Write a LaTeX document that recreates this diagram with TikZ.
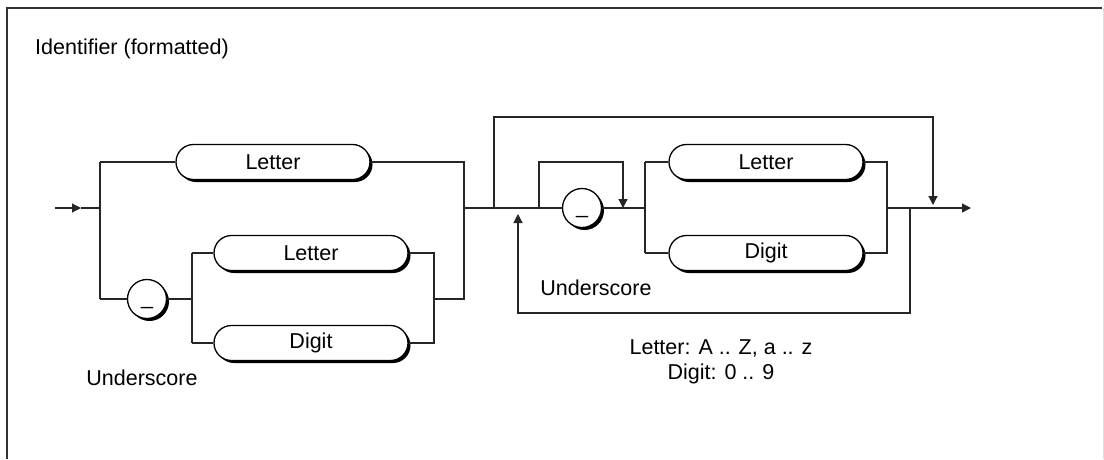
\documentclass[tikz,border=0pt]{standalone}
\usepackage{fontspec}
\setmainfont{Liberation Sans}
\usetikzlibrary{arrows.meta,shapes.misc,shadows}
\begin{document}
\begin{tikzpicture}[x=1pt,y=-1pt,
  every node/.style={font=\fontsize{21.5}{25}\selectfont},
  ln/.style={line width=1.2pt,black!85},
  arr/.style={ln,-{Triangle[length=9pt,width=9pt]}},
  sbox/.style={rounded rectangle,draw,line width=1.3pt,fill=white,minimum width=194pt,minimum height=35pt,inner sep=0pt,
    drop shadow={shadow xshift=2.5pt,shadow yshift=-2.5pt,fill=black,opacity=1}},
  sc/.style={circle,draw,line width=1.3pt,fill=white,minimum size=39pt,inner sep=0pt,text height=15pt,text depth=4pt,
    drop shadow={shadow xshift=2.5pt,shadow yshift=-2.5pt,fill=black,opacity=1}},
  lbl/.style={inner sep=0pt}]
\useasboundingbox (0,0) rectangle (1104,459);
% frame
\draw[line width=1.6pt,black!80] (7,459) -- (7,8) -- (1102,8);
\draw[line width=0.8pt,black!12] (1103,8) -- (1103,459);
\node[lbl,anchor=west] (title) at (35,49) {Identifier (formatted)};
% left part
\coordinate (in) at (55,208);
\coordinate (ina) at (81,208);
\coordinate (j1) at (100,208);
\coordinate (j1t) at (100,162);
\coordinate (j1b) at (100,299);
\node[sbox] (L1) at (273,162) {Letter};
\node[sc] (U1) at (147,299) {\_};
\coordinate (j2) at (192,299);
\coordinate (j2t) at (192,253);
\coordinate (j2b) at (192,343);
\node[sbox] (L2) at (311,253) {Letter};
\node[sbox] (D2) at (311,343) {Digit};
\coordinate (j3t) at (434,253);
\coordinate (j3b) at (434,343);
\coordinate (j3) at (434,299);
\coordinate (j4t) at (464,162);
\coordinate (j4b) at (464,299);
\coordinate (j4) at (464,208);
\node[lbl] (us1) at (142,378) {Underscore};
\draw[arr] (in) -- (ina);
\draw[ln] (ina) -- (j1);
\draw[ln] (j1t) -- (j1b);
\draw[ln] (j1t) -- (L1.west);
\draw[ln] (L1.east) -- (j4t) -- (j4b) -- (j3);
\draw[ln] (j1b) -- (U1.west);
\draw[ln] (U1.east) -- (j2);
\draw[ln] (j2t) -- (j2b);
\draw[ln] (j2t) -- (L2.west);
\draw[ln] (j2b) -- (D2.west);
\draw[ln] (L2.east) -- (j3t) -- (j3b) -- (D2.east);
% right part
\coordinate (k1) at (494,208);
\coordinate (k1t) at (494,117);
\coordinate (k9t) at (933,117);
\coordinate (k9) at (933,205);
\coordinate (k2) at (539,208);
\coordinate (k2t) at (539,162);
\coordinate (k3t) at (623,162);
\coordinate (k3) at (623,208);
\node[sc] (U3) at (582,208) {\_};
\coordinate (m1) at (645,208);
\coordinate (m1t) at (645,162);
\coordinate (m1b) at (645,253);
\node[sbox] (L3) at (766,162) {Letter};
\node[sbox] (D3) at (766,253) {Digit};
\coordinate (m2t) at (887,162);
\coordinate (m2b) at (887,253);
\coordinate (m2) at (887,208);
\coordinate (r1) at (910,208);
\coordinate (r1b) at (910,313);
\coordinate (r2b) at (518,313);
\coordinate (r2) at (518,214);
\coordinate (out) at (971,208);
\node[lbl] (us2) at (596,288) {Underscore};
\draw[ln] (j4) -- (U3.west);
\draw[ln] (U3.east) -- (m1);
\draw[ln] (m1t) -- (m1b);
\draw[ln] (m1t) -- (L3.west);
\draw[ln] (m1b) -- (D3.west);
\draw[ln] (L3.east) -- (m2t) -- (m2b) -- (D3.east);
\draw[arr] (m2) -- (out);
\draw[arr] (k1) -- (k1t) -- (k9t) -- (k9);
\draw[arr] (k2) -- (k2t) -- (k3t) -- (k3);
\draw[arr] (r1) -- (r1b) -- (r2b) -- (r2);
\node[lbl,align=center] (legend) at (721,362) {Letter: A .. Z, a .. z\\Digit: 0 .. 9};
\end{tikzpicture}
\end{document}
